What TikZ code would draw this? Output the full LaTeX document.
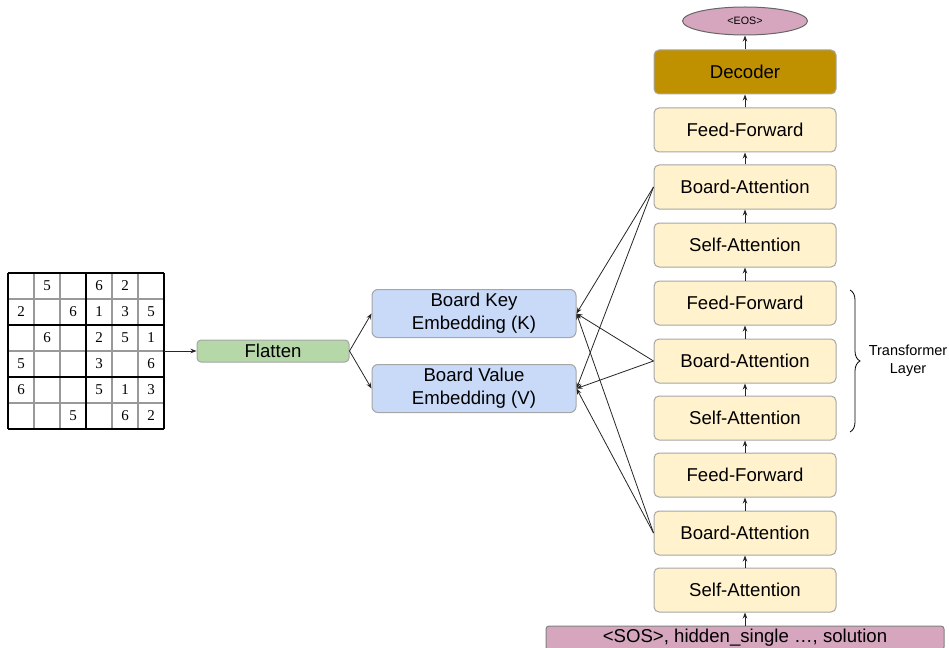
\documentclass[tikz,border=0pt]{standalone}
\usepackage{fontspec}
\setmainfont{Liberation Sans}
\newfontfamily\boardfont{Liberation Serif}
\usepackage{tikz}
\usetikzlibrary{arrows.meta,positioning,shapes.geometric,decorations.pathreplacing}
\definecolor{cream}{HTML}{FFF2CC}
\definecolor{mustard}{HTML}{BF9000}
\definecolor{skyblue}{HTML}{C9DAF8}
\definecolor{sage}{HTML}{B6D7A8}
\definecolor{mauve}{HTML}{D5A6BD}
\definecolor{rim}{HTML}{A6A6A6}

\begin{document}
\begin{tikzpicture}[x=1pt,y=-1pt,font=\fontsize{18.6}{23}\selectfont,
  >={Stealth[length=6pt,width=4.5pt]},
  layer/.style={draw=rim,line width=1pt,rounded corners=5pt,fill=cream,minimum width=182pt,minimum height=44pt,inner sep=0pt},
  embed/.style={draw=rim,line width=1pt,rounded corners=6pt,fill=skyblue,minimum width=204pt,minimum height=48pt,inner sep=0pt,align=center},
  link/.style={->,line width=.8pt,black!85}]
\useasboundingbox (0,0) rectangle (949,647);
% board
\node (board) [minimum width=156pt,minimum height=156pt,inner sep=0pt] at (86,351) {};
\foreach \i in {1,2,4,5}{
\draw[black!40,line width=1.2pt] ({8+26*\i},273)--++(0,156);}
\foreach \i in {1,3,5}{
\draw[black!40,line width=1.2pt] (8,{273+26*\i})--++(156,0);}
\foreach \i in {0,3,6}{
\draw[line width=2pt] ({8+26*\i},273)--++(0,156);}
\foreach \i in {0,2,4,6}{
\draw[line width=2pt] (8,{273+26*\i})--++(156,0);}
\foreach \c/\r/\d in {2/1/5,4/1/6,5/1/2,1/2/2,3/2/6,4/2/1,5/2/3,6/2/5,2/3/6,4/3/2,5/3/5,6/3/1,
  1/4/5,4/4/3,6/4/6,1/5/6,4/5/5,5/5/1,6/5/3,3/6/5,5/6/6,6/6/2}{
\node (d\c\r) at ({8+26*\c-13},{273+26*\r-13}) {\boardfont\fontsize{15}{15}\selectfont\d};}
% inputs
\node (flat) [draw=rim,line width=1pt,rounded corners=4pt,fill=sage,minimum width=152pt,minimum height=22pt,inner sep=0pt] at (273,351) {Flatten};
\node (key) [embed] at (474,313.5) {Board Key\\Embedding (K)};
\node (val) [embed] at (474,388.5) {Board Value\\Embedding (V)};
% decoder stack
\foreach \n/\y/\t in {sa1/590/Self-Attention,ba1/533/Board-Attention,ff1/475/Feed-Forward,
  sa2/418/Self-Attention,ba2/361/Board-Attention,ff2/303/Feed-Forward,
  sa3/245/Self-Attention,ba3/187/Board-Attention,ff3/130/Feed-Forward}{
\node (\n) [layer] at (745,\y) {\t};}
\node (dec) [layer,fill=mustard] at (745,72) {Decoder};
\node (eos) [ellipse,draw=black!60,line width=1pt,fill=mauve,minimum width=125pt,minimum height=28pt,inner sep=0pt,font=\fontsize{10.7}{12}\selectfont] at (745,21) {<EOS>};
\node (sos) [draw=black!50,line width=1pt,rounded corners=3pt,fill=mauve,minimum width=398pt,minimum height=24pt,inner sep=0pt] at (745,638) {<SOS>, hidden\_single …, solution};
\foreach \a/\b in {sos/sa1,sa1/ba1,ba1/ff1,ff1/sa2,sa2/ba2,ba2/ff2,ff2/sa3,sa3/ba3,ba3/ff3,ff3/dec,dec/eos}{
\draw[link] (\a.north)--(\b.south);}
\draw[link] (board.east)--(flat.west);
\draw[link] (flat.east)--(key.west);
\draw[link] (flat.east)--(val.west);
\foreach \b in {ba1,ba2,ba3}{
\draw[link] (\b.west)--(key.east);
\draw[link] (\b.west)--(val.east);}
% transformer layer
\coordinate (btop) at (850,290);
\coordinate (bbot) at (850,432);
\draw[decorate,decoration={brace,amplitude=10pt},line width=.8pt] (btop)--(bbot);
\node (tl) [align=center,font=\fontsize{14.5}{18}\selectfont] at (908,361) {Transformer\\Layer};
\end{tikzpicture}
\end{document}
